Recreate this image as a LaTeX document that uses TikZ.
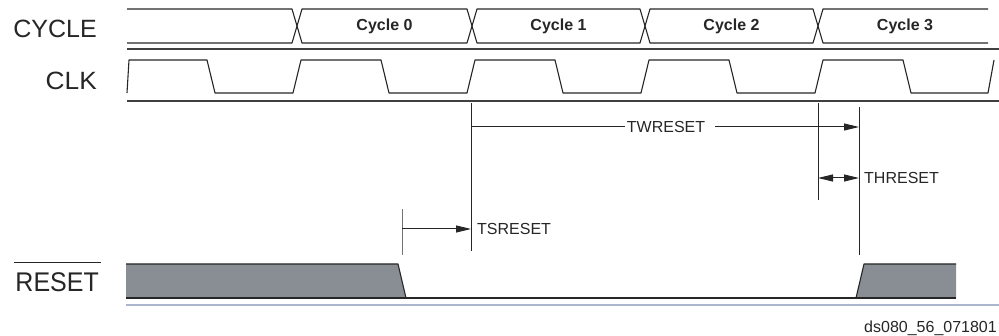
\documentclass[tikz,border=0pt]{standalone}
\usepackage{fontspec}
\setmainfont{Liberation Sans}
\usetikzlibrary{arrows.meta}
\definecolor{resetgray}{HTML}{898E94}
\definecolor{baseblue}{HTML}{A9B6CC}
\tikzset{
  sig/.style={line width=1.1pt, black!85, line join=round},
  sepline/.style={line width=1.2pt, black!75},
  lbl/.style={font=\fontsize{25}{30}\selectfont, inner sep=0pt, text=black!85},
  cyc/.style={font=\bfseries\fontsize{16}{19}\selectfont, inner sep=0pt, text=black!85},
  tim/.style={font=\fontsize{16}{19}\selectfont, inner sep=0pt, text=black!85},
  tickline/.style={line width=1pt, black!85},
  tri/.tip={Triangle[length=15pt,width=7pt]},
  dimline/.style={line width=1pt, black!85},
}
\begin{document}
\begin{tikzpicture}[x=1pt,y=-1pt]
\useasboundingbox (0,0) rectangle (999,336);
% signal names
\node[lbl, anchor=east] (ncycle) at (97,28.5) {CYCLE};
\node[lbl, anchor=east, xscale=1.05] (nclk) at (97,81) {CLK};
\node[lbl, anchor=east, yscale=1.08] (nrst) at (99,282) {RESET};
\draw[line width=1.1pt, black!85] ([shift={(-1,-10)}]nrst.north west) -- ([shift={(2,-10)}]nrst.north east);
% separators
\draw[sepline] (127,49) -- (999,49);
\draw[sepline] (127,101) -- (999,101);
\draw[line width=1.5pt, baseblue] (126,305) -- (999,305);
% CYCLE bus
\draw[sig] (127,9) -- (292,9) -- (302,43) -- (467,43) -- (477,9) -- (640,9) -- (650,43) -- (813,43) -- (823,9) -- (988,9);
\draw[sig] (127,43) -- (292,43) -- (302,9) -- (467,9) -- (477,43) -- (640,43) -- (650,9) -- (813,9) -- (823,43) -- (988,43);
\node[cyc] (c0) at (384.5,26.5) {Cycle 0};
\node[cyc] (c1) at (558.5,26.5) {Cycle 1};
\node[cyc] (c2) at (731.5,26.5) {Cycle 2};
\node[cyc] (c3) at (905,26.5) {Cycle 3};
% CLK
\draw[sig] (127,93) -- (129,60) -- (207,60) -- (215,93)
  \foreach \k in {0,1,2,3} { -- ({293+174*\k},93) -- ({301+174*\k},60) -- ({381+174*\k},60) -- ({389+174*\k},93) }
  -- (988,93) -- (994,60);
% RESET
\fill[resetgray] (126,264) -- (398,264) -- (406,298) -- (126,298) -- cycle;
\fill[resetgray] (856,298) -- (864,264) -- (956,264) -- (956,298) -- cycle;
\draw[sig] (126,264) -- (398,264) -- (406,298) -- (856,298) -- (864,264) -- (956,264);
\draw[sig] (126,298) -- (956,298);
% timing reference lines
\coordinate (v1t) at (402,209); \coordinate (v1b) at (402,255);
\coordinate (v2t) at (471,103); \coordinate (v2b) at (471,251);
\coordinate (v3t) at (818,103); \coordinate (v3b) at (818,200);
\coordinate (v4t) at (859,107); \coordinate (v4b) at (859,255);
\draw[tickline, black!55] (v1t) -- (v1b);
\draw[tickline] (v2t) -- (v2b);
\draw[tickline] (v3t) -- (v3b);
\draw[tickline] (v4t) -- (v4b);
% timing labels
\node[tim, anchor=west] (ts) at (477,229) {TSRESET};
\node[tim] (tw) at (666,127) {TWRESET};
\node[tim, anchor=west] (th) at (864,178) {THRESET};
\draw[dimline, -tri] (v1t |- ts) -- (v2t |- ts);
\draw[dimline] (v2t |- tw) -- ([xshift=-2pt]tw.west);
\draw[dimline, -tri] ([xshift=10pt]tw.east) -- (v4t |- tw);
\draw[dimline, tri-tri] (v3t |- th) -- (v4t |- th);
% figure id
\node[tim, anchor=east] (fid) at (997,328) {ds080\_56\_071801};
\end{tikzpicture}
\end{document}
